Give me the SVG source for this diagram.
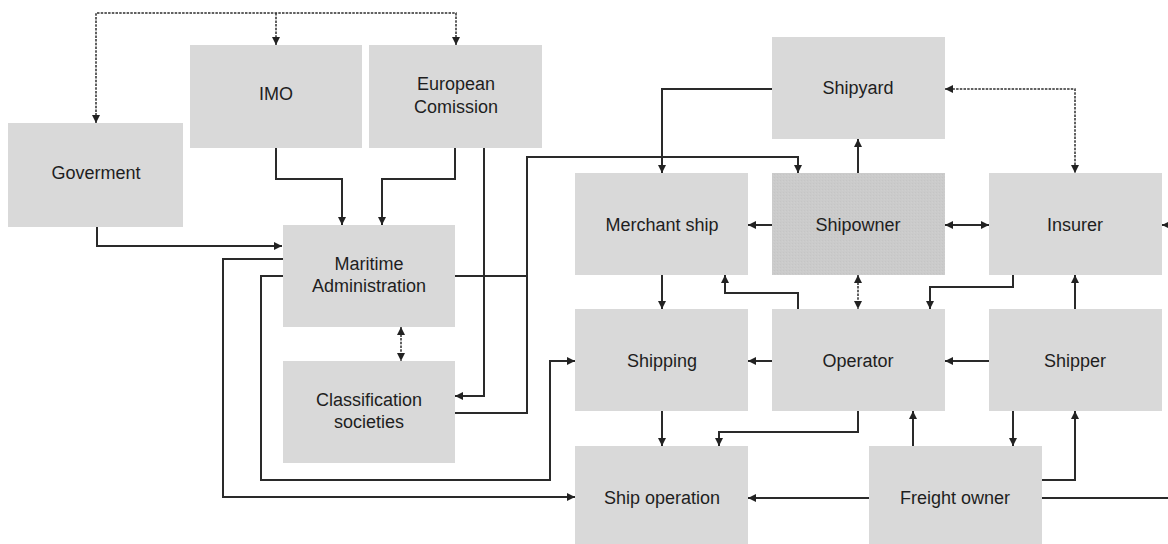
<svg xmlns="http://www.w3.org/2000/svg" width="1168" height="544" viewBox="0 0 1168 544">
<style>
.box{fill:#d9d9d9;}
.dark{fill:url(#hatch);}
.t{font-family:"Liberation Sans",Arial,sans-serif;font-size:18px;fill:#1e1e1e;text-anchor:middle;}
.c{fill:none;stroke:#2a2a2a;stroke-width:2;marker-end:url(#ah);}
.d{fill:none;stroke:#2e2e2e;stroke-width:1.5;stroke-dasharray:2.5 1.2;marker-end:url(#ah);marker-start:url(#ah);}
.n{fill:none;stroke:#2a2a2a;stroke-width:2;}
</style>
<defs>
<marker id="ah" viewBox="0 0 8 8" refX="8" refY="4" markerWidth="8" markerHeight="8" markerUnits="userSpaceOnUse" orient="auto-start-reverse">
<path d="M0,0 L8,4 L0,8 z" fill="#222"/>
</marker>
<pattern id="hatch" width="3" height="3" patternUnits="userSpaceOnUse">
<rect width="3" height="3" fill="#cbcbcb"/>
<rect width="1" height="1" fill="#c5c5c5"/>
<rect x="2" y="1" width="1" height="1" fill="#cfcfcf"/>
</pattern>
</defs>
<rect width="1168" height="544" fill="#ffffff"/>

<g id="goverment"><rect class="box" x="8" y="123" width="175" height="104"/><text class="t" x="96" y="179">Goverment</text></g>
<g id="imo"><rect class="box" x="190" y="45" width="172" height="103"/><text class="t" x="276" y="100">IMO</text></g>
<g id="european-comission"><rect class="box" x="369" y="45" width="173" height="103"/><text class="t" x="456" y="90">European</text><text class="t" x="456" y="113">Comission</text></g>
<g id="maritime-administration"><rect class="box" x="283" y="225" width="172" height="102"/><text class="t" x="369" y="270">Maritime</text><text class="t" x="369" y="292">Administration</text></g>
<g id="classification-societies"><rect class="box" x="283" y="361" width="172" height="102"/><text class="t" x="369" y="406">Classification</text><text class="t" x="369" y="428">societies</text></g>
<g id="shipyard"><rect class="box" x="772" y="37" width="173" height="102"/><text class="t" x="858" y="94">Shipyard</text></g>
<g id="merchant-ship"><rect class="box" x="575" y="173" width="173" height="102"/><text class="t" x="662" y="231">Merchant ship</text></g>
<g id="shipowner"><rect class="dark" x="772" y="173" width="173" height="102"/><text class="t" x="858" y="231">Shipowner</text></g>
<g id="insurer"><rect class="box" x="989" y="173" width="173" height="102"/><text class="t" x="1075" y="231">Insurer</text></g>
<g id="shipping"><rect class="box" x="575" y="309" width="173" height="102"/><text class="t" x="662" y="367">Shipping</text></g>
<g id="operator"><rect class="box" x="772" y="309" width="173" height="102"/><text class="t" x="858" y="367">Operator</text></g>
<g id="shipper"><rect class="box" x="989" y="309" width="173" height="102"/><text class="t" x="1075" y="367">Shipper</text></g>
<g id="ship-operation"><rect class="box" x="575" y="446" width="173" height="104"/><text class="t" x="662" y="504">Ship operation</text></g>
<g id="freight-owner"><rect class="box" x="869" y="446" width="173" height="104"/><text class="t" x="955" y="504">Freight owner</text></g>

<g id="connectors">
<path class="c" d="M97,227 V246 H282"/>
<path class="c" d="M276,148 V179 H342 V225"/>
<path class="c" d="M455,148 V179 H382 V225"/>
<path class="c" d="M484,148 V396 H455"/>
<path class="c" d="M455,276 H527 V157 H798 V173"/>
<path class="n" d="M455,413 H527 V276"/>
<path class="c" d="M283,259 H223 V497 H575"/>
<path class="c" d="M283,276 H261 V480 H550 V361 H575"/>
<path class="c" d="M772,89 H662 V173"/>
<path class="c" d="M858,173 V139"/>
<path class="c" d="M772,225 H748"/>
<path class="c" style="marker-start:url(#ah)" d="M945,225 H989"/>
<path class="c" d="M1170,225 H1162"/>
<path class="c" d="M662,275 V309"/>
<path class="c" d="M798,309 V293 H725 V275"/>
<path class="c" d="M1013,275 V287 H930 V309"/>
<path class="c" d="M1075,309 V275"/>
<path class="c" d="M772,361 H748"/>
<path class="c" d="M989,361 H945"/>
<path class="c" d="M662,411 V446"/>
<path class="c" d="M858,411 V432 H719 V446"/>
<path class="c" d="M913,446 V411"/>
<path class="c" d="M1013,411 V446"/>
<path class="c" d="M1042,480 H1075 V411"/>
<path class="c" d="M869,498 H748"/>
<path class="n" d="M1042,498 H1168"/>
<path class="d" d="M96,123 V13 H456 V45"/>
<path class="d" style="marker-start:none" d="M276,13 V45"/>
<path class="d" d="M401,327 V361"/>
<path class="d" d="M945,89 H1075 V173"/>
<path class="d" d="M858,275 V309"/>
</g>
</svg>
